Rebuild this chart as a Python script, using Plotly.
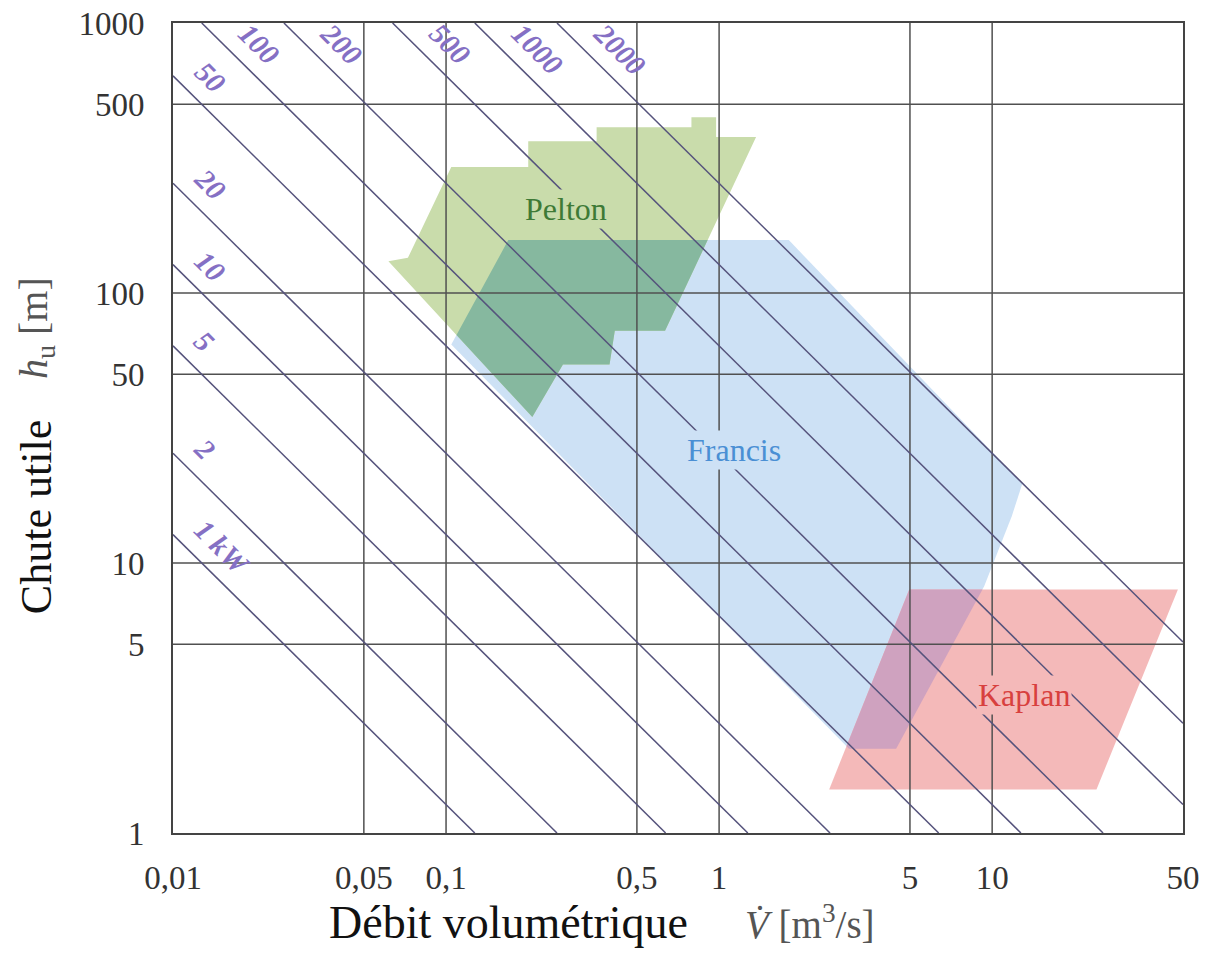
import math
import plotly.graph_objects as go

# ---------------- data ----------------
power_kw = [1, 2, 5, 10, 20, 50, 100, 200, 500, 1000, 2000]
power_labels = ["1 kW", "2", "5", "10", "20", "50", "100", "200", "500", "1000", "2000"]

x_ticks = [0.01, 0.05, 0.1, 0.5, 1, 5, 10, 50]
x_ticktext = ["0,01", "0,05", "0,1", "0,5", "1", "5", "10", "50"]
y_ticks = [1, 5, 10, 50, 100, 500, 1000]
y_ticktext = ["1", "5", "10", "50", "100", "500", "1000"]

pelton_q = [0.1045, 0.200, 0.200, 0.356, 0.356, 0.792, 0.792, 0.975, 0.975, 1.366,
            0.634, 0.415, 0.397, 0.268, 0.207, 0.0615, 0.0725]
pelton_h = [293, 293, 365, 365, 411, 411, 448, 448, 378, 378,
            72.5, 72.5, 54.4, 54.4, 34.7, 131, 135]

francis_q = [0.169, 1.80, 12.9, 11.8, 9.35, 4.45, 2.99, 0.1045]
francis_h = [157, 157, 19.7, 14.9, 8.2, 2.05, 2.05, 64.4]

kaplan_q = [4.97, 47.9, 24.1, 2.53]
kaplan_h = [7.98, 7.98, 1.45, 1.45]

# P = eta * g * Q * H  (kW), eta ~ 0.8
K = 0.8 * 9.81

X_MIN, X_MAX = 0.01, 50
Y_MIN, Y_MAX = 1, 1000

C_PELTON = "#c9dcab"
C_TEAL = "#86b89f"
C_FRANCIS = "#cde1f5"
C_KAPLAN = "#f4b9b9"
C_MAUVE = "#cfa2bf"
GRID = "#505050"
PLINE = "#55537c"
PLABEL = "#8570c4"
SERIF = "Liberation Serif, Times New Roman, serif"


def to_log(qs, hs):
    return [(math.log10(q), math.log10(h)) for q, h in zip(qs, hs)]


def clip_poly(subject, clipper):
    def area(p):
        return sum(p[i][0] * p[(i + 1) % len(p)][1] - p[(i + 1) % len(p)][0] * p[i][1]
                   for i in range(len(p)))
    sgn = 1 if area(clipper) > 0 else -1

    def inside(p, a, b):
        return sgn * ((b[0] - a[0]) * (p[1] - a[1]) - (b[1] - a[1]) * (p[0] - a[0])) >= 0

    def inter(p, q, a, b):
        x1, y1 = p; x2, y2 = q; x3, y3 = a; x4, y4 = b
        den = (x1 - x2) * (y3 - y4) - (y1 - y2) * (x3 - x4)
        t = ((x1 - x3) * (y3 - y4) - (y1 - y3) * (x3 - x4)) / den
        return (x1 + t * (x2 - x1), y1 + t * (y2 - y1))

    out = list(subject)
    n = len(clipper)
    for i in range(n):
        a, b = clipper[i], clipper[(i + 1) % n]
        inp, out = out, []
        if not inp:
            break
        s = inp[-1]
        for e in inp:
            if inside(e, a, b):
                if not inside(s, a, b):
                    out.append(inter(s, e, a, b))
                out.append(e)
            elif inside(s, a, b):
                out.append(inter(s, e, a, b))
            s = e
    return out


fig = go.Figure()


def add_poly(pts_log, color):
    xs = [10 ** p[0] for p in pts_log] + [10 ** pts_log[0][0]]
    ys = [10 ** p[1] for p in pts_log] + [10 ** pts_log[0][1]]
    fig.add_trace(go.Scatter(x=xs, y=ys, mode="lines", fill="toself", fillcolor=color,
                             line=dict(width=0), hoverinfo="skip", showlegend=False))


pel = to_log(pelton_q, pelton_h)
fra = to_log(francis_q, francis_h)
kap = to_log(kaplan_q, kaplan_h)

add_poly(fra, C_FRANCIS)
add_poly(pel, C_PELTON)
add_poly(kap, C_KAPLAN)
ov1 = clip_poly(pel, fra)
if len(ov1) > 2:
    add_poly(ov1, C_TEAL)
ov2 = clip_poly(kap, fra)
if len(ov2) > 2:
    add_poly(ov2, C_MAUVE)

# grid lines (drawn over the fills)
for xv in x_ticks[1:-1]:
    fig.add_trace(go.Scatter(x=[xv, xv], y=[Y_MIN, Y_MAX], mode="lines",
                             line=dict(color=GRID, width=1.5), hoverinfo="skip", showlegend=False))
for yv in y_ticks[1:-1]:
    fig.add_trace(go.Scatter(x=[X_MIN, X_MAX], y=[yv, yv], mode="lines",
                             line=dict(color=GRID, width=1.5), hoverinfo="skip", showlegend=False))

# constant power lines
for p in power_kw:
    q_lo = max(X_MIN, p / (K * Y_MAX))
    q_hi = min(X_MAX, p / (K * Y_MIN))
    fig.add_trace(go.Scatter(x=[q_lo, q_hi], y=[p / (K * q_lo), p / (K * q_hi)], mode="lines",
                             line=dict(color=PLINE, width=1.5), hoverinfo="skip", showlegend=False))

annotations = []

# power labels, placed just above-right of each line
LFS = 29
q_start = 10 ** (-2 + 9 / 279)
h_start = 10 ** (3 - 24 / 272)
cw = {"k": 0.5, "W": 0.9, " ": 0.25}
for p, lab in zip(power_kw, power_labels):
    h = p / (K * q_start)
    if h <= h_start:
        q0, h0 = q_start, h
    else:
        q0, h0 = p / (K * h_start), h_start
    hw = 0.5 * LFS * sum(cw.get(c, 0.5) for c in lab)
    d = hw / math.sqrt(2)
    annotations.append(dict(x=math.log10(q0), y=math.log10(h0), xref="x", yref="y",
                            text="<b><i>" + lab + "</i></b>", showarrow=False, textangle=45,
                            xanchor="center", yanchor="middle",
                            xshift=d + 18, yshift=18 - d,
                            font=dict(family=SERIF, size=LFS, color=PLABEL)))

# region labels
for txt, qx, hy, col, bg in [("Pelton", 0.275, 205, "#3e7a36", C_PELTON),
                              ("Francis", 1.135, 26.2, "#4a8fd4", C_FRANCIS),
                              ("Kaplan", 13.1, 3.24, "#d8403e", C_KAPLAN)]:
    annotations.append(dict(x=math.log10(qx), y=math.log10(hy), xref="x", yref="y",
                            text=txt, showarrow=False, bgcolor=bg, borderpad=1,
                            font=dict(family=SERIF, size=32, color=col)))

# axis titles
annotations += [
    dict(x=0.3317, y=-0.110, xref="paper", yref="paper", text="Débit volumétrique",
         showarrow=False, xanchor="center", yanchor="middle",
         font=dict(family=SERIF, size=46, color="#111111")),
    dict(x=0.6307, y=-0.110, xref="paper", yref="paper",
         text="<i>V\u0307</i> [m<sup>3</sup>/s]",
         showarrow=False, xanchor="center", yanchor="middle",
         font=dict(family=SERIF, size=39, color="#555555")),
    dict(x=-0.1356, y=0.390, xref="paper", yref="paper", text="Chute utile",
         showarrow=False, textangle=-90, xanchor="center", yanchor="middle",
         font=dict(family=SERIF, size=44, color="#111111")),
    dict(x=-0.1356, y=0.6235, xref="paper", yref="paper", text="<i>h</i><sub>u</sub> [m]",
         showarrow=False, textangle=-90, xanchor="center", yanchor="middle",
         font=dict(family=SERIF, size=40, color="#555555")),
]

fig.update_layout(
    width=1207, height=963,
    margin=dict(l=173, r=24, t=23, b=130, autoexpand=False),
    paper_bgcolor="white", plot_bgcolor="white",
    showlegend=False,
    annotations=annotations,
    xaxis=dict(type="log", range=[math.log10(X_MIN), math.log10(X_MAX)],
               tickvals=x_ticks, ticktext=x_ticktext, showgrid=False, zeroline=False,
               showline=True, mirror=True, linecolor="#444444", linewidth=2,
               ticks="", ticklabelstandoff=14, layer="above traces", automargin=False,
               ticklabeloverflow="allow",
               tickfont=dict(family=SERIF, size=33, color="#333333")),
    yaxis=dict(type="log", range=[math.log10(Y_MIN), math.log10(Y_MAX)],
               tickvals=y_ticks, ticktext=y_ticktext, showgrid=False, zeroline=False,
               showline=True, mirror=True, linecolor="#444444", linewidth=2,
               ticks="", ticklabelstandoff=20, layer="above traces", automargin=False,
               ticklabeloverflow="allow",
               tickfont=dict(family=SERIF, size=33, color="#333333")),
)

# remove the default page margin so the figure fills the window exactly
fig.write_html("out.html", config={"displayModeBar": False},
               post_script="document.body.style.margin='0px';")
